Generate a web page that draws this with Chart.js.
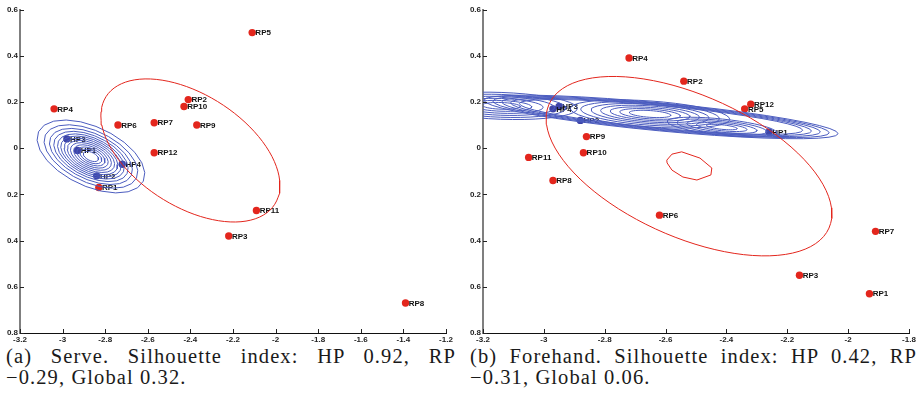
<!DOCTYPE html>
<html>
<head>
<meta charset="utf-8">
<script src="https://cdn.jsdelivr.net/npm/chart.js@4.4.0/dist/chart.umd.min.js"></script>
<style>
  body { margin: 0; background: #fff; width: 921px; height: 406px; position: relative; overflow: hidden; }
  canvas { position: absolute; top: 0; }
  #serve { left: 0; }
  #fore { left: 460px; }
  .cap { position: absolute; font-family: "Liberation Serif", serif; font-size: 20.5px; line-height: 21px; letter-spacing: 1.1px; color: #1a1a1a; }
  .cap .l1 { text-align: justify; text-align-last: justify; }
</style>
</head>
<body>
<canvas id="serve" width="460" height="345"></canvas>
<canvas id="fore" width="461" height="345"></canvas>
<div class="cap" style="left:6px; top:346px; width:450px;">
  <div class="l1">(a) Serve. Silhouette index: HP 0.92, RP</div>
  <div>−0.29, Global 0.32.</div>
</div>
<div class="cap" style="left:470px; top:346px; width:447px;">
  <div class="l1">(b) Forehand. Silhouette index: HP 0.42, RP</div>
  <div>−0.31, Global 0.06.</div>
</div>
<script>
// ticks
var serveXTicks = [-3.2, -3, -2.8, -2.6, -2.4, -2.2, -2, -1.8, -1.6, -1.4, -1.2]
var serveXTickLabels = ['-3.2', '-3', '-2.8', '-2.6', '-2.4', '-2.2', '-2', '-1.8', '-1.6', '-1.4', '-1.2']
var foreXTicks = [-3.2, -3, -2.8, -2.6, -2.4, -2.2, -2, -1.8]
var foreXTickLabels = ['-3.2', '-3', '-2.8', '-2.6', '-2.4', '-2.2', '-2', '-1.8']
var yTicks = [0.6, 0.4, 0.2, 0, -0.2, -0.4, -0.6, -0.8]
var yTickLabels = ['0.6', '0.4', '0.2', '0', '0.2', '0.4', '0.6', '0.8']

// (a) serve
var serveRpNames = ['RP1', 'RP2', 'RP3', 'RP4', 'RP5', 'RP6', 'RP7', 'RP8', 'RP9', 'RP10', 'RP11', 'RP12']
var serveRpX = [-2.83, -2.41, -2.22, -3.04, -2.11, -2.74, -2.57, -1.39, -2.37, -2.43, -2.09, -2.57]
var serveRpY = [-0.17, 0.21, -0.38, 0.17, 0.50, 0.10, 0.11, -0.67, 0.10, 0.18, -0.27, -0.02]
var serveHpNames = ['HP1', 'HP2', 'HP3', 'HP4']
var serveHpX = [-2.93, -2.84, -2.98, -2.72]
var serveHpY = [-0.01, -0.12, 0.04, -0.07]

// (b) forehand
var foreRpNames = ['RP1', 'RP2', 'RP3', 'RP4', 'RP5', 'RP6', 'RP7', 'RP8', 'RP9', 'RP10', 'RP11', 'RP12']
var foreRpX = [-1.93, -2.54, -2.16, -2.72, -2.34, -2.62, -1.91, -2.97, -2.86, -2.87, -3.05, -2.32]
var foreRpY = [-0.63, 0.29, -0.55, 0.39, 0.17, -0.29, -0.36, -0.14, 0.05, -0.02, -0.04, 0.19]
var foreHpNames = ['HP1', 'HP2', 'HP3', 'HP4']
var foreHpX = [-2.26, -2.88, -2.95, -2.97]
var foreHpY = [0.07, 0.12, 0.18, 0.17]

// RP ellipses: centre x, centre y, axis vector u, axis vector v (data units)
var serveEllipse = [-2.40, -0.01, 0.396, -0.233, -0.141, -0.204]
var foreEllipse = [-2.523, -0.078, 0.460, -0.268, -0.0943, -0.281]
var foreLoopX = [-2.596, -2.579, -2.547, -2.487, -2.448, -2.451, -2.497, -2.543, -2.579, -2.595, -2.596]
var foreLoopY = [-0.052, -0.026, -0.016, -0.043, -0.086, -0.116, -0.138, -0.125, -0.095, -0.064, -0.052]

// HP density contours: shape + ring levels
var serveHpShape = [-2.867, -0.036, 0.246, -0.107, -0.0594, -0.116]
var serveHpLevels = [1, 0.87, 0.77, 0.69, 0.62, 0.56, 0.50, 0.44, 0.38, 0.32, 0.26, 0.20, 0.14]
var foreHpShapes = [
    [-2.615, 0.135, 0.582, -0.0725, -0.00434, -0.0603],
    [-3.14, 0.183, 0.25, -0.012, -0.0021, -0.058],
    [-2.651, 0.148, 0.262, -0.0242, -0.003, -0.056],
    [-2.415, 0.0913, 0.18, -0.0247, -0.0028, -0.0345]
]
var foreHpLevels = [
    [1, 0.95, 0.9, 0.85, 0.8],
    [1, 0.85, 0.7, 0.55, 0.4, 0.25],
    [1, 0.87, 0.74, 0.62, 0.5, 0.38, 0.26],
    [1, 0.82, 0.64, 0.46, 0.28]
]

var RED = '#e3261d'
var BLUE = '#3d43a6'
var CONTOUR = '#4b5cbf'

function ring(shape, s, n) {
    var pts = []
    for (var i = 0; i <= n; i++) {
        var t = i / n * 2 * Math.PI
        pts.push({
            x: shape[0] + s * (shape[2] * Math.cos(t) + shape[4] * Math.sin(t)),
            y: shape[1] + s * (shape[3] * Math.cos(t) + shape[5] * Math.sin(t))
        })
    }
    return pts
}

function lineSet(data, color) {
    return { data: data, showLine: true, borderColor: color, borderWidth: 1, pointRadius: 0, tension: 0, fill: false }
}

function dotSet(xs, ys, names, color) {
    return {
        data: xs.map((x, i) => ({ x: x, y: ys[i] })),
        names: names,
        pointRadius: 3.7,
        pointBackgroundColor: color,
        pointBorderWidth: 0,
        showLine: false
    }
}

var pointLabels = {
    id: 'pointLabels',
    afterDatasetDraw: function(chart, args) {
        var ds = chart.data.datasets[args.index]
        if (!ds.names) return
        var ctx = chart.ctx
        ctx.save()
        ctx.font = 'bold 8px "Liberation Sans", Arial, sans-serif'
        ctx.fillStyle = '#111'
        ctx.textBaseline = 'middle'
        args.meta.data.forEach((el, i) => {
            ctx.fillText(ds.names[i], el.x + 3.2, el.y + 0.5)
        })
        ctx.restore()
    }
}

var inwardTicks = {
    id: 'inwardTicks',
    afterDraw: function(chart) {
        var ctx = chart.ctx, a = chart.chartArea, xs = chart.scales.x, ys = chart.scales.y
        ctx.save()
        ctx.strokeStyle = '#222'
        ctx.lineWidth = 1
        ctx.beginPath()
        xs.ticks.forEach((t) => {
            var px = Math.round(xs.getPixelForValue(t.value)) + 0.5
            ctx.moveTo(px, a.bottom)
            ctx.lineTo(px, a.bottom - 4)
        })
        ys.ticks.forEach((t) => {
            var py = Math.round(ys.getPixelForValue(t.value)) + 0.5
            ctx.moveTo(a.left, py)
            ctx.lineTo(a.left + 4, py)
        })
        ctx.stroke()
        ctx.restore()
    }
}

function makeChart(id, datasets, xTicks, xLabels, yWidth, padRight) {
    var ctx = document.getElementById(id).getContext('2d')
    return new Chart(ctx, {
        type: 'scatter',
        data: { datasets: datasets },
        options: {
            responsive: false,
            animation: false,
            devicePixelRatio: 1,
            events: [],
            layout: { padding: { top: 9.5, right: padRight, left: 0, bottom: 0 } },
            plugins: { legend: { display: false }, tooltip: { enabled: false } },
            scales: {
                x: {
                    type: 'linear',
                    min: xTicks[0],
                    max: xTicks[xTicks.length - 1],
                    afterBuildTicks: (s) => { s.ticks = xTicks.map((v) => ({ value: v })) },
                    afterFit: (s) => { s.height = 12 },
                    grid: { drawOnChartArea: false, drawTicks: false },
                    border: { display: true, color: '#111', width: 1 },
                    ticks: {
                        padding: 2,
                        maxRotation: 0,
                        autoSkip: false,
                        color: '#222',
                        font: { family: '"Liberation Sans Narrow", "Liberation Sans", sans-serif', size: 8, weight: 'bold' },
                        callback: (v, i) => xLabels[i]
                    }
                },
                y: {
                    type: 'linear',
                    min: -0.8,
                    max: 0.6,
                    afterBuildTicks: (s) => { s.ticks = yTicks.map((v) => ({ value: v })) },
                    afterFit: (s) => { s.width = yWidth },
                    grid: { drawOnChartArea: false, drawTicks: false },
                    border: { display: true, color: '#7f7f7f', width: 2 },
                    ticks: {
                        padding: 2,
                        autoSkip: false,
                        color: '#222',
                        font: { family: '"Liberation Sans", Arial, sans-serif', size: 8, weight: 'bold' },
                        callback: (v, i) => yTickLabels[i]
                    }
                }
            }
        },
        plugins: [pointLabels, inwardTicks]
    })
}

// serve panel
var serveSets = [lineSet(ring(serveEllipse, 1, 90), RED)]
serveHpLevels.forEach((s) => { serveSets.push(lineSet(ring(serveHpShape, s, 22), CONTOUR)) })
serveSets.push(dotSet(serveHpX, serveHpY, serveHpNames, BLUE))
serveSets.push(dotSet(serveRpX, serveRpY, serveRpNames, RED))
makeChart('serve', serveSets, serveXTicks, serveXTickLabels, 20, 14)

// forehand panel
var foreSets = [
    lineSet(ring(foreEllipse, 1, 90), RED),
    lineSet(foreLoopX.map((x, i) => ({ x: x, y: foreLoopY[i] })), RED)
]
foreHpShapes.forEach((shape, k) => {
    foreHpLevels[k].forEach((s) => { foreSets.push(lineSet(ring(shape, s, 40), CONTOUR)) })
})
foreSets.push(dotSet(foreHpX, foreHpY, foreHpNames, BLUE))
foreSets.push(dotSet(foreRpX, foreRpY, foreRpNames, RED))
makeChart('fore', foreSets, foreXTicks, foreXTickLabels, 23, 12)
</script>
</body>
</html>
